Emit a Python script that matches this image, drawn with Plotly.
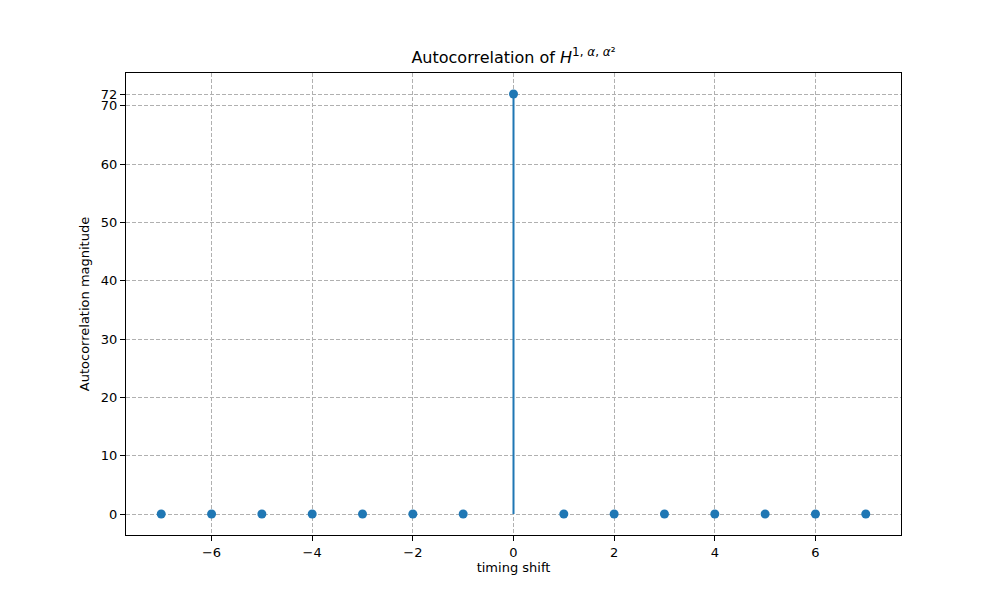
import plotly.graph_objects as go

# ── Data ──────────────────────────────────────────────────────────────────────
shifts = [-7, -6, -5, -4, -3, -2, -1, 0, 1, 2, 3, 4, 5, 6, 7]
magnitude = [0, 0, 0, 0, 0, 0, 0, 72, 0, 0, 0, 0, 0, 0, 0]
x_ticks = [-6, -4, -2, 0, 2, 4, 6]
x_tick_labels = ["\u22126", "\u22124", "\u22122", "0", "2", "4", "6"]
y_ticks = [0, 10, 20, 30, 40, 50, 60, 70, 72]

BLUE = "#1f77b4"
GRID = "#b0b0b0"
FONT = "DejaVu Sans, sans-serif"

# stem segments from baseline to each value
stem_x, stem_y = [], []
for sx, sy in zip(shifts, magnitude):
    stem_x += [sx, sx, None]
    stem_y += [0, sy, None]

fig = go.Figure()
fig.add_trace(
    go.Scatter(
        x=stem_x, y=stem_y, mode="lines",
        line=dict(color=BLUE, width=2), hoverinfo="skip", showlegend=False,
    )
)
fig.add_trace(
    go.Scatter(
        x=shifts, y=magnitude, mode="markers",
        marker=dict(color=BLUE, size=9), showlegend=False,
    )
)

axis_common = dict(
    showgrid=True, gridcolor=GRID, griddash="4px,2px", gridwidth=1,
    zeroline=False, showline=True, mirror=True, linecolor="black", linewidth=1,
    ticks="outside", ticklen=5, tickcolor="black",
    tickfont=dict(family=FONT, size=13, color="black"),
    title_font=dict(family=FONT, size=13, color="black"),
)

title_text = (
    "Autocorrelation of <i>H</i><sup><span style='font-size:12px'>"
    "1, <i>\u03b1</i>, <i>\u03b1</i>\u00b2</span></sup>"
)

# page body adds ~7px offset, margins compensate
fig.update_layout(
    width=1000, height=600,
    paper_bgcolor="white", plot_bgcolor="white",
    margin=dict(l=118, r=107, t=65, b=73),
    font=dict(family=FONT, color="black"),
    title=dict(
        text=title_text,
        x=(118 + 775 / 2) / 1000, xanchor="center", y=0.918, yanchor="middle",
        font=dict(family=FONT, size=16, color="black"),
    ),
    xaxis=dict(
        **axis_common, range=[-7.7, 7.7],
        tickvals=x_ticks, ticktext=x_tick_labels,
        title=dict(text="timing shift", standoff=4),
    ),
    yaxis=dict(
        **axis_common, range=[-3.6, 75.6],
        tickvals=y_ticks,
        title=dict(text="Autocorrelation magnitude", standoff=8),
    ),
)

fig.write_html("out.html")
